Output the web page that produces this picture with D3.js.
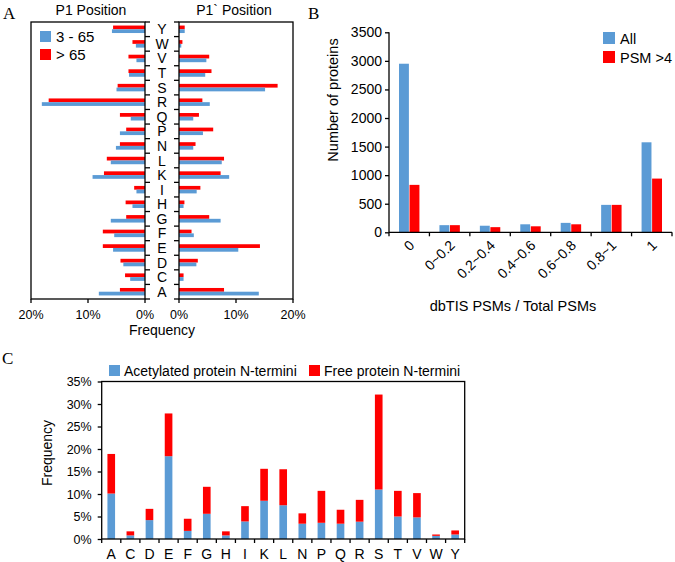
<!DOCTYPE html>
<html><head><meta charset="utf-8">
<script src="https://cdn.jsdelivr.net/npm/d3@7"></script>
<style>
body{margin:0;background:#fff}
svg{display:block}
text{font-family:"Liberation Sans",Arial,sans-serif;fill:#000}
.serif{font-family:"Liberation Serif","Times New Roman",serif}
</style>
</head><body><svg id="c" width="675" height="562"></svg>
<script>
// ---------- DATA ----------
const letters = ["A","C","D","E","F","G","H","I","K","L","N","P","Q","R","S","T","V","W","Y"];
// Panel A (frequency, %)
const p1Low   = [8.1,2.6,3.8,5.6,5.4,6.0,2.2,1.5,9.2,6.0,5.1,4.4,2.5,18.1,5.0,2.8,1.5,1.6,5.8];
const p1High  = [4.4,3.5,4.3,7.4,7.4,3.3,3.4,1.9,7.2,6.7,4.4,3.3,4.4,16.9,4.8,2.9,2.9,2.2,5.6];
const p1pLow  = [14.0,0.8,3.05,10.4,2.6,7.3,0.8,3.1,8.8,7.5,2.5,4.2,2.5,5.4,15.1,4.6,4.8,0.4,1.0];
const p1pHigh = [7.9,0.8,3.3,14.2,2.2,5.3,0.95,3.75,7.3,7.9,2.9,6.0,3.5,4.1,17.3,5.7,5.3,0.6,1.0];
const aTicks  = [0,10,20];
const aLegend = ["3 - 65","> 65"];
// Panel B
const bCats  = ["0","0~0.2","0.2~0.4","0.4~0.6","0.6~0.8","0.8~1","1"];
const bAll   = [2950,125,115,140,165,480,1575];
const bPsm   = [830,125,90,105,140,480,940];
const bTicks = [0,500,1000,1500,2000,2500,3000,3500];
const bLegend = ["All","PSM >4"];
// Panel C (frequency, %)
const cAcet = [10.1,0.8,4.2,18.4,1.8,5.6,0.8,3.9,8.5,7.5,3.4,3.6,3.4,3.85,11.0,5.0,4.8,0.7,1.0];
const cFree = [8.8,0.9,2.5,9.5,2.7,6.0,0.9,3.4,7.1,8.0,2.3,7.1,3.1,4.85,21.1,5.7,5.4,0.3,0.9];
const cTicks = [0,5,10,15,20,25,30,35];
const cLegend = ["Acetylated protein N-termini","Free protein N-termini"];

const BLUE = "#5B9BD5", RED = "#FF0000";
const svg = d3.select("#c");
const LW = 1.3;

// ---------- PANEL A ----------
const aTop = 22, aBot = 299;
const yA = d3.scaleBand().domain(letters.slice().reverse()).range([aTop, aBot]).padding(0);
const subA = d3.scaleBand().domain(["high","low"]).range([0, yA.bandwidth()]).paddingInner(0).paddingOuter(0.95);
const xL = d3.scaleLinear().domain([0,20]).range([145,31]);
const xR = d3.scaleLinear().domain([0,20]).range([179,293]);

svg.append("text").attr("class","serif").attr("x",3).attr("y",19).attr("font-size",17).text("A");
svg.append("text").attr("x",91).attr("y",15).attr("text-anchor","middle").attr("font-size",14).text("P1 Position");
svg.append("text").attr("x",234).attr("y",15).attr("text-anchor","middle").attr("font-size",14).text("P1` Position");

function panelA(xs, low, high, side){
  const g = svg.append("g");
  g.selectAll("rect.h").data(letters).join("rect")
    .attr("x", (d,i)=> Math.min(xs(0), xs(high[i])))
    .attr("width",(d,i)=> Math.abs(xs(high[i])-xs(0)))
    .attr("y", d=> yA(d)+subA("high")).attr("height", subA.bandwidth())
    .attr("fill", RED);
  g.selectAll("rect.l").data(letters).join("rect")
    .attr("x", (d,i)=> Math.min(xs(0), xs(low[i])))
    .attr("width",(d,i)=> Math.abs(xs(low[i])-xs(0)))
    .attr("y", d=> yA(d)+subA("low")).attr("height", subA.bandwidth())
    .attr("fill", BLUE);
  const x0 = xs(0), x20 = xs(20);
  // frame
  g.append("rect").attr("x",Math.min(x0,x20)).attr("y",aTop).attr("width",Math.abs(x20-x0)).attr("height",aBot-aTop)
    .attr("fill","none").attr("stroke","#000").attr("stroke-width",LW);
  // band boundary ticks on the inner (zero) edge
  const bounds = yA.domain().map(d=>yA(d)).concat([aBot]);
  const dir = side==="left" ? 1 : -1;
  g.selectAll("line.bt").data(bounds).join("line")
    .attr("x1",x0).attr("x2",x0+dir*5).attr("y1",d=>d).attr("y2",d=>d)
    .attr("stroke","#000").attr("stroke-width",LW);
  // x ticks
  g.selectAll("line.xt").data(aTicks).join("line")
    .attr("x1",d=>xs(d)).attr("x2",d=>xs(d)).attr("y1",aBot).attr("y2",aBot+4)
    .attr("stroke","#000").attr("stroke-width",LW);
  g.selectAll("text.xl").data(aTicks).join("text")
    .attr("x",d=>xs(d)).attr("y",aBot+20).attr("text-anchor","middle").attr("font-size",12.5)
    .text(d=>d+"%");
}
panelA(xL, p1Low, p1High, "left");
panelA(xR, p1pLow, p1pHigh, "right");
svg.append("g").selectAll("text").data(letters).join("text")
  .attr("x",162).attr("y",d=>yA(d)+yA.bandwidth()/2+5).attr("text-anchor","middle").attr("font-size",14)
  .text(d=>d);
svg.append("text").attr("x",162).attr("y",335).attr("text-anchor","middle").attr("font-size",14).text("Frequency");
// legend A
const lgA = svg.append("g");
[BLUE,RED].forEach((c,i)=>{
  lgA.append("rect").attr("x",40).attr("y",31+i*18).attr("width",11).attr("height",11).attr("fill",c);
  lgA.append("text").attr("x",56).attr("y",42+i*18).attr("font-size",15).text(aLegend[i]);
});

// ---------- PANEL B ----------
const bL = 389, bR = 672, bTop = 32.3, bBot = 232.3;
const xB = d3.scaleBand().domain(bCats).range([bL,bR]).padding(0);
const subB = d3.scaleBand().domain(["all","psm"]).range([0,xB.bandwidth()]).paddingInner(0.06).paddingOuter(0.95);
const yB = d3.scaleLinear().domain([0,3500]).range([bBot,bTop]);
svg.append("text").attr("class","serif").attr("x",308).attr("y",19).attr("font-size",17).text("B");
const gB = svg.append("g");
gB.selectAll("rect.a").data(bCats).join("rect")
  .attr("x",d=>xB(d)+subB("all")).attr("width",subB.bandwidth())
  .attr("y",(d,i)=>yB(bAll[i])).attr("height",(d,i)=>bBot-yB(bAll[i])).attr("fill",BLUE);
gB.selectAll("rect.p").data(bCats).join("rect")
  .attr("x",d=>xB(d)+subB("psm")).attr("width",subB.bandwidth())
  .attr("y",(d,i)=>yB(bPsm[i])).attr("height",(d,i)=>bBot-yB(bPsm[i])).attr("fill",RED);
const yAxB = gB.append("g").attr("transform",`translate(${bL},0)`)
  .call(d3.axisLeft(yB).tickValues(bTicks).tickSize(4).tickPadding(3).tickFormat(d3.format("d")));
yAxB.selectAll("text").attr("font-size",14).attr("font-family","Liberation Sans, Arial, sans-serif");
yAxB.selectAll("line,path").attr("stroke-width",LW);
yAxB.select("path").attr("d",`M0,${bTop}V${bBot}`);
gB.append("line").attr("x1",bL).attr("x2",bR).attr("y1",bBot).attr("y2",bBot).attr("stroke","#000").attr("stroke-width",LW);
const bBounds = bCats.map(d=>xB(d)).concat([bR]);
gB.selectAll("line.bt").data(bBounds).join("line")
  .attr("x1",d=>d).attr("x2",d=>d).attr("y1",bBot).attr("y2",bBot+4).attr("stroke","#000").attr("stroke-width",LW);
gB.selectAll("text.xl").data(bCats).join("text")
  .attr("transform",d=>`translate(${xB(d)+xB.bandwidth()/2+6},${bBot+14}) rotate(-45)`)
  .attr("text-anchor","end").attr("font-size",14).text(d=>d);
svg.append("text").attr("transform",`translate(338,100) rotate(-90)`).attr("text-anchor","middle").attr("font-size",14.5).text("Number of proteins");
svg.append("text").attr("x",513).attr("y",311).attr("text-anchor","middle").attr("font-size",14.5).text("dbTIS PSMs / Total PSMs");
[BLUE,RED].forEach((c,i)=>{
  gB.append("rect").attr("x",603).attr("y",32+i*19).attr("width",12).attr("height",12).attr("fill",c);
  gB.append("text").attr("x",620).attr("y",44+i*19).attr("font-size",14.5).text(bLegend[i]);
});

// ---------- PANEL C ----------
const cL = 101.7, cR = 464.7, cTop = 381.5, cBot = 539;
const xC = d3.scaleBand().domain(letters).range([cL,cR]).padding(0);
const yC = d3.scaleLinear().domain([0,35]).range([cBot,cTop]);
svg.append("text").attr("class","serif").attr("x",2).attr("y",364).attr("font-size",17).text("C");
const rowsC = letters.map((l,i)=>({letter:l, acet:cAcet[i], free:cFree[i]}));
const stackC = d3.stack().keys(["acet","free"])(rowsC);
const colC = {acet:BLUE, free:RED};
const gC = svg.append("g");
const bwC = xC.bandwidth()*0.4;
stackC.forEach(s=>{
  gC.append("g").selectAll("rect").data(s).join("rect")
    .attr("x",d=>xC(d.data.letter)+(xC.bandwidth()-bwC)/2).attr("width",bwC)
    .attr("y",d=>yC(d[1])).attr("height",d=>yC(d[0])-yC(d[1])).attr("fill",colC[s.key]);
});
gC.append("rect").attr("x",cL).attr("y",cTop).attr("width",cR-cL).attr("height",cBot-cTop)
  .attr("fill","none").attr("stroke","#000").attr("stroke-width",LW);
const yAxC = gC.append("g").attr("transform",`translate(${cL},0)`)
  .call(d3.axisLeft(yC).tickValues(cTicks).tickSize(4).tickPadding(6).tickFormat(d=>d+"%"));
yAxC.selectAll("text").attr("font-size",12.5).attr("font-family","Liberation Sans, Arial, sans-serif");
yAxC.selectAll("line").attr("stroke-width",LW);
yAxC.select("path").remove();
const cBounds = letters.map(d=>xC(d)).concat([cR]);
gC.selectAll("line.bt").data(cBounds).join("line")
  .attr("x1",d=>d).attr("x2",d=>d).attr("y1",cBot).attr("y2",cBot+4).attr("stroke","#000").attr("stroke-width",LW);
gC.selectAll("text.xl").data(letters).join("text")
  .attr("x",d=>xC(d)+xC.bandwidth()/2).attr("y",559).attr("text-anchor","middle").attr("font-size",14).text(d=>d);
svg.append("text").attr("transform",`translate(52,453) rotate(-90)`).attr("text-anchor","middle").attr("font-size",14).text("Frequency");
const lgC = svg.append("g");
lgC.append("rect").attr("x",109).attr("y",365).attr("width",11).attr("height",11).attr("fill",BLUE);
lgC.append("text").attr("x",124).attr("y",376).attr("font-size",14).text(cLegend[0]);
lgC.append("rect").attr("x",309).attr("y",365).attr("width",11).attr("height",11).attr("fill",RED);
lgC.append("text").attr("x",324).attr("y",376).attr("font-size",14).text(cLegend[1]);
</script></body></html>
